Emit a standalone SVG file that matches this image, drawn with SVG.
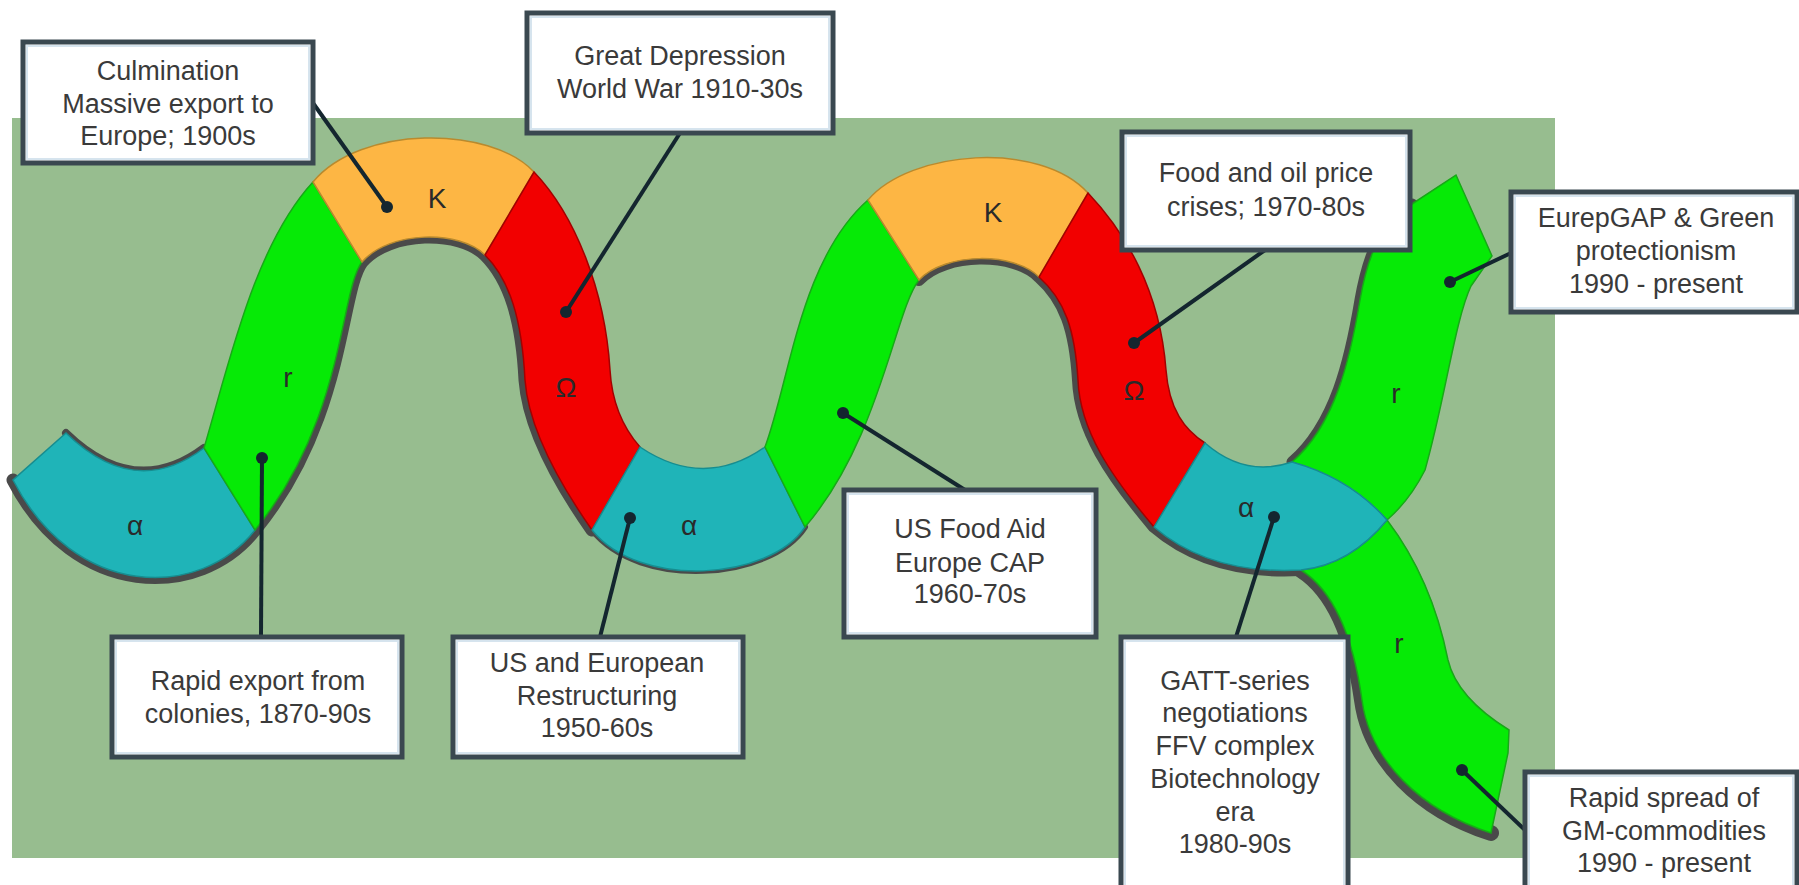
<svg xmlns="http://www.w3.org/2000/svg" width="1799" height="885" viewBox="0 0 1799 885">
<style>
.box{fill:#ffffff;stroke:#3a4850;stroke-width:5}
.inner{fill:none;stroke:#d6e4ee;stroke-width:2}
.t{font-family:"Liberation Sans",Arial,sans-serif;font-size:27px;fill:#3a3a3a;text-anchor:middle}
.lbl{font-family:"Liberation Sans",Arial,sans-serif;font-size:28px;fill:#2a2a2a;text-anchor:middle}
.teal{fill:#1fb4b8;stroke:#168d90;stroke-width:1.5}
.grn{fill:#06ea06;stroke:#18a818;stroke-width:1.5}
.org{fill:#fdb644;stroke:#b98a2e;stroke-width:1.5}
.red{fill:#f20000;stroke:#a30000;stroke-width:1.5}
.sh{fill:none;stroke:#4a4a4a;stroke-linecap:round;stroke-linejoin:round}
.con{stroke:#14262f;stroke-width:4;fill:none}
.dot{fill:#14262f}
</style>
<rect x="0" y="0" width="1799" height="885" fill="#ffffff"/>
<rect id="background" x="12" y="118" width="1543" height="740" fill="#97bd8f"/>

<g id="ribbon-shadow">
<path class="sh" stroke-width="8" d="M66,433 Q135,500 204,448"/>
<path class="sh" stroke-width="13" d="M13,480 C75,600 200,600 255,530 C345,420 340,290 362,262 C390,230 460,230 485,255 C510,280 522,320 525,380 C528,420 550,470 592,530"/>
<path class="sh" stroke-width="6" d="M592,530 C640,590 770,580 805,527"/>
<path class="sh" stroke-width="12" d="M919,280 C945,252 1015,252 1039,277 C1065,300 1075,330 1078,380 C1080,430 1110,475 1154,527 Q1210,575 1301,570"/>
<path class="sh" stroke-width="16" d="M1301,570 C1340,595 1355,650 1362,700 C1370,760 1420,810 1491,833"/>
<path class="sh" stroke-width="11" stroke="#666" d="M1292,462 C1335,425 1350,360 1360,300 C1367,260 1380,220 1412,204"/>
</g>

<g id="seg-alpha1"><path class="teal" d="M66,433 Q135,500 204,448 L255,530 C200,600 75,600 13,480 Z"/><text class="lbl" x="135" y="535">α</text></g>
<g id="seg-r1"><path class="grn" d="M204,448 C230,360 255,245 313,182 L362,262 C340,290 345,420 255,530 Z"/><text class="lbl" x="288" y="387">r</text></g>
<g id="seg-K1"><path class="org" d="M313,182 C360,125 490,125 534,172 L485,255 C460,230 390,230 362,262 Z"/><text class="lbl" x="437" y="208">K</text></g>
<g id="seg-omega1"><path class="red" d="M534,172 C575,215 605,290 610,370 C612,405 625,430 640,447 L592,530 C550,470 528,420 525,380 C522,320 510,280 485,255 Z"/><text class="lbl" x="566" y="397">Ω</text></g>
<g id="seg-alpha2"><path class="teal" d="M640,447 Q704,490 765,447 L805,527 C770,580 640,590 592,530 Z"/><text class="lbl" x="689" y="535">α</text></g>
<g id="seg-r2"><path class="grn" d="M765,447 C790,380 800,260 868,200 L919,280 C895,310 880,440 805,527 Z"/></g>
<g id="seg-K2"><path class="org" d="M868,200 C910,150 1040,140 1088,193 L1039,277 C1015,252 945,252 919,280 Z"/><text class="lbl" x="993" y="222">K</text></g>
<g id="seg-omega2"><path class="red" d="M1088,193 C1125,232 1160,290 1166,370 C1169,410 1185,430 1205,443 L1154,527 C1110,475 1080,430 1078,380 C1075,330 1065,300 1039,277 Z"/><text class="lbl" x="1134" y="400">Ω</text></g>
<g id="seg-r3"><path class="grn" d="M1292,462 C1335,425 1350,360 1360,300 C1367,260 1380,220 1412,204 L1456,175 L1492,256 L1471,286 C1455,320 1445,400 1425,470 Q1410,500 1387,520 Q1350,480 1292,462 Z"/><text class="lbl" x="1396" y="403">r</text></g>
<g id="seg-r4"><path class="grn" d="M1301,570 C1340,595 1355,650 1362,700 C1370,760 1420,810 1491,833 L1508,753 L1509,730 C1480,712 1455,690 1448,660 C1440,620 1425,570 1387,520 Q1350,565 1301,570 Z"/><text class="lbl" x="1399" y="653">r</text></g>
<g id="seg-alpha3"><path class="teal" d="M1205,443 Q1245,478 1292,462 Q1350,478 1387,520 Q1350,565 1301,570 Q1210,575 1154,527 Z"/><text class="lbl" x="1246" y="517">α</text></g>

<g id="connectors">
<line class="con" x1="313" y1="103" x2="387" y2="207"/><circle class="dot" cx="387" cy="207" r="6"/>
<line class="con" x1="680" y1="133" x2="566" y2="312"/><circle class="dot" cx="566" cy="312" r="6"/>
<line class="con" x1="1265" y1="250" x2="1134" y2="343"/><circle class="dot" cx="1134" cy="343" r="6"/>
<line class="con" x1="1511" y1="253" x2="1450" y2="282"/><circle class="dot" cx="1450" cy="282" r="6"/>
<line class="con" x1="261" y1="637" x2="262" y2="458"/><circle class="dot" cx="262" cy="458" r="6"/>
<line class="con" x1="600" y1="637" x2="630" y2="518"/><circle class="dot" cx="630" cy="518" r="6"/>
<line class="con" x1="965" y1="490" x2="843" y2="413"/><circle class="dot" cx="843" cy="413" r="6"/>
<line class="con" x1="1236" y1="637" x2="1274" y2="517"/><circle class="dot" cx="1274" cy="517" r="6"/>
<line class="con" x1="1525" y1="830" x2="1462" y2="770"/><circle class="dot" cx="1462" cy="770" r="6"/>
</g>

<g id="box-culmination"><rect class="box" x="23" y="42" width="290" height="121"/><rect class="inner" x="27" y="46" width="282" height="113"/>
<text class="t" x="168" y="80">Culmination</text><text class="t" x="168" y="113">Massive export to</text><text class="t" x="168" y="145">Europe; 1900s</text></g>
<g id="box-depression"><rect class="box" x="527" y="13" width="306" height="120"/><rect class="inner" x="531" y="17" width="298" height="112"/>
<text class="t" x="680" y="65">Great Depression</text><text class="t" x="680" y="98">World War 1910-30s</text></g>
<g id="box-food-oil"><rect class="box" x="1122" y="132" width="288" height="118"/><rect class="inner" x="1126" y="136" width="280" height="110"/>
<text class="t" x="1266" y="182">Food and oil price</text><text class="t" x="1266" y="216">crises; 1970-80s</text></g>
<g id="box-eurepgap"><rect class="box" x="1511" y="192" width="286" height="120"/><rect class="inner" x="1515" y="196" width="278" height="112"/>
<text class="t" x="1656" y="227">EurepGAP &amp; Green</text><text class="t" x="1656" y="260">protectionism</text><text class="t" x="1656" y="293">1990 - present</text></g>
<g id="box-rapid-export"><rect class="box" x="112" y="637" width="290" height="120"/><rect class="inner" x="116" y="641" width="282" height="112"/>
<text class="t" x="258" y="690">Rapid export from</text><text class="t" x="258" y="723">colonies, 1870-90s</text></g>
<g id="box-restructuring"><rect class="box" x="453" y="637" width="290" height="120"/><rect class="inner" x="457" y="641" width="282" height="112"/>
<text class="t" x="597" y="672">US and European</text><text class="t" x="597" y="705">Restructuring</text><text class="t" x="597" y="737">1950-60s</text></g>
<g id="box-food-aid"><rect class="box" x="844" y="490" width="252" height="147"/><rect class="inner" x="848" y="494" width="244" height="139"/>
<text class="t" x="970" y="538">US Food Aid</text><text class="t" x="970" y="572">Europe CAP</text><text class="t" x="970" y="603">1960-70s</text></g>
<g id="box-gatt"><rect class="box" x="1121" y="637" width="227" height="260"/><rect class="inner" x="1125" y="641" width="219" height="252"/>
<text class="t" x="1235" y="690">GATT-series</text><text class="t" x="1235" y="722">negotiations</text><text class="t" x="1235" y="755">FFV complex</text><text class="t" x="1235" y="788">Biotechnology</text><text class="t" x="1235" y="821">era</text><text class="t" x="1235" y="853">1980-90s</text></g>
<g id="box-gm"><rect class="box" x="1525" y="772" width="272" height="125"/><rect class="inner" x="1529" y="776" width="264" height="117"/>
<text class="t" x="1664" y="807">Rapid spread of</text><text class="t" x="1664" y="840">GM-commodities</text><text class="t" x="1664" y="872">1990 - present</text></g>
</svg>
